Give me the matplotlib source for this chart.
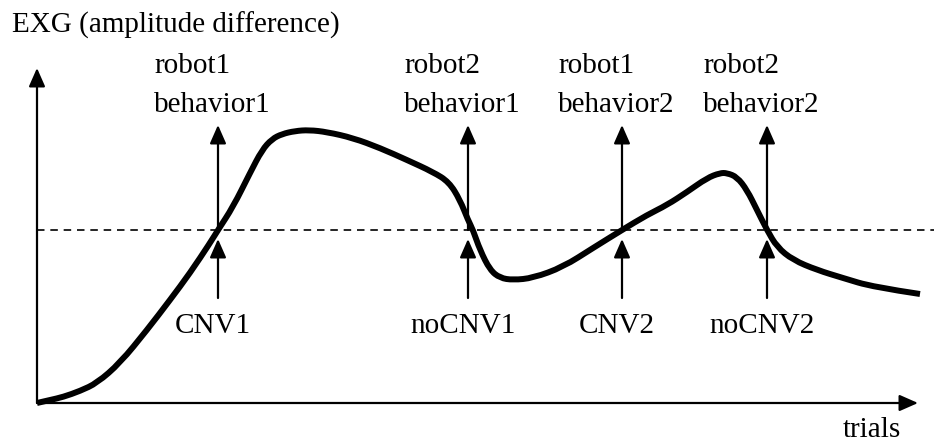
import numpy as np
import matplotlib.pyplot as plt
from matplotlib.path import Path
from matplotlib.patches import PathPatch

# EXG curve (trials, amplitude difference), arbitrary units
trials = [0, 13, 26, 43, 60, 83, 110, 133, 153, 173, 181, 196, 213, 225, 235, 245,
          258, 272, 290, 316, 343, 370, 396, 412, 423, 431, 436, 443, 453, 463, 476,
          496, 526, 556, 585, 610, 630, 650, 670, 683, 690, 700, 710, 720, 730, 740,
          756, 780, 806, 836, 883]
amplitude = [0, 3, 6, 12, 20, 40, 73, 103, 130, 160, 173, 196, 230, 253, 264, 269,
             272, 273, 271, 265, 255, 243, 231, 221, 203, 183, 173, 153, 133, 125, 123,
             125, 136, 155, 173, 188, 198, 211, 225, 230, 230, 226, 213, 193, 173, 156,
             143, 133, 125, 116, 109]
threshold = 173

# events where the curve crosses the threshold
event_trials = [181, 431, 585, 730]
top_robot = ['robot1', 'robot2', 'robot1', 'robot2']
top_behavior = ['behavior1', 'behavior1', 'behavior2', 'behavior2']
bottom_labels = ['CNV1', 'noCNV1', 'CNV2', 'noCNV2']

plt.rcParams['font.family'] = ['Liberation Serif', 'DejaVu Serif']
fs = 21

fig = plt.figure(figsize=(9.34, 4.44), dpi=100)
ax = fig.add_axes([0, 0, 1, 1])
ax.set_xlim(-37, 897)
ax.set_ylim(-41, 403)
ax.axis('off')

def arrow(x0, y0, x1, y1):
    ax.annotate('', xy=(x1, y1), xytext=(x0, y0),
                arrowprops=dict(arrowstyle='-|>,head_length=0.75,head_width=0.33',
                                mutation_scale=15, lw=1.6, color='k',
                                shrinkA=0, shrinkB=0))

# axes
arrow(0, 0, 0, 335)
arrow(0, 0, 881, 0)

# threshold
ax.plot([0, 897], [threshold, threshold], color='k', lw=1.2, dashes=(4.5, 3.5))

# curve: read points used as quadratic bezier controls so the stroke is smooth
pts = np.column_stack([trials, amplitude]).astype(float)
verts = [pts[0]]
codes = [Path.MOVETO]
for i in range(1, len(pts) - 1):
    mid = (pts[i] + pts[i + 1]) / 2 if i < len(pts) - 2 else pts[i + 1]
    verts += [pts[i], mid]
    codes += [Path.CURVE3, Path.CURVE3]
ax.add_patch(PathPatch(Path(verts, codes), fill=False, ec='k', lw=4.3,
                       joinstyle='round', capstyle='butt'))

for x, r, b, lab in zip(event_trials, top_robot, top_behavior, bottom_labels):
    arrow(x, threshold, x, 278)
    arrow(x, 105, x, 164)
    ax.text(x - 64, 330, r, fontsize=fs, ha='left', va='baseline')
    ax.text(x - 64, 291, b, fontsize=fs, ha='left', va='baseline')
    ax.text(x - 5, 70, lab, fontsize=fs, ha='center', va='baseline')

ax.text(-25, 370, 'EXG (amplitude difference)', fontsize=fs, ha='left', va='baseline')
ax.text(806, -34, 'trials', fontsize=fs, ha='left', va='baseline')

fig.savefig('out.png', dpi=100)
